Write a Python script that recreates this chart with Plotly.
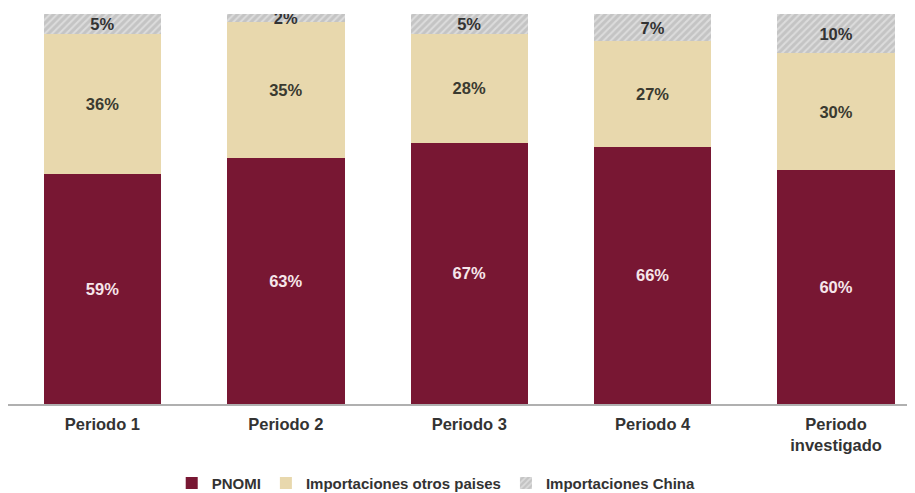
import plotly.graph_objects as go

categories = ["Periodo 1", "Periodo 2", "Periodo 3", "Periodo 4", "Periodo<br>investigado"]
pnomi = [59, 63, 67, 66, 60]
otros = [36, 35, 28, 27, 30]
china = [5, 2, 5, 7, 10]

FONT = "Arial, Liberation Sans"

fig = go.Figure()
fig.add_trace(go.Bar(
    x=categories, y=pnomi, name="PNOMI",
    marker=dict(color="#781733", line=dict(width=0)),
    texttemplate="%{y}%", textposition="inside", insidetextanchor="middle",
    textfont=dict(color="#f6e6ea", size=16.5, family=FONT, weight="bold"),
    constraintext="none", textangle=0,
))
fig.add_trace(go.Bar(
    x=categories, y=otros, name="Importaciones otros paises",
    marker=dict(color="#e8d8ad", line=dict(width=0)),
    texttemplate="%{y}%", textposition="inside", insidetextanchor="middle",
    textfont=dict(color="#3a3a30", size=16.5, family=FONT, weight="bold"),
    constraintext="none", textangle=0,
))
fig.add_trace(go.Bar(
    x=categories, y=china, name="Importaciones China",
    marker=dict(color="#cfcfcf", line=dict(width=0),
                pattern=dict(shape="/", bgcolor="#c4c4c4", fgcolor="#f4f4f4", size=5, solidity=0.4)),
    texttemplate="%{y}%", textposition="inside", insidetextanchor="middle",
    textfont=dict(color="#333333", size=16.5, family=FONT, weight="bold"),
    constraintext="none", textangle=0,
))

fig.update_layout(
    barmode="stack",
    bargap=0.36,
    width=915, height=493,
    margin=dict(l=0, r=0, t=6, b=97),
    paper_bgcolor="white", plot_bgcolor="white",
    font=dict(family=FONT, color="#333333"),
    xaxis=dict(range=[-0.515, 4.474], showline=True, linecolor="#b0b0b0", linewidth=2,
               ticks="", tickfont=dict(size=16.5, color="#333333", weight="bold"),
               ticklabelstandoff=4,
               showgrid=False, zeroline=False),
    yaxis=dict(range=[0, 100], visible=False, showgrid=False, zeroline=False),
    legend=dict(orientation="h", x=0.468, xanchor="center", y=-0.203, yanchor="middle",
                font=dict(size=15, color="#333333", weight="bold"), traceorder="normal",
                itemwidth=30),
    showlegend=True,
)

fig.write_html("out.html")
